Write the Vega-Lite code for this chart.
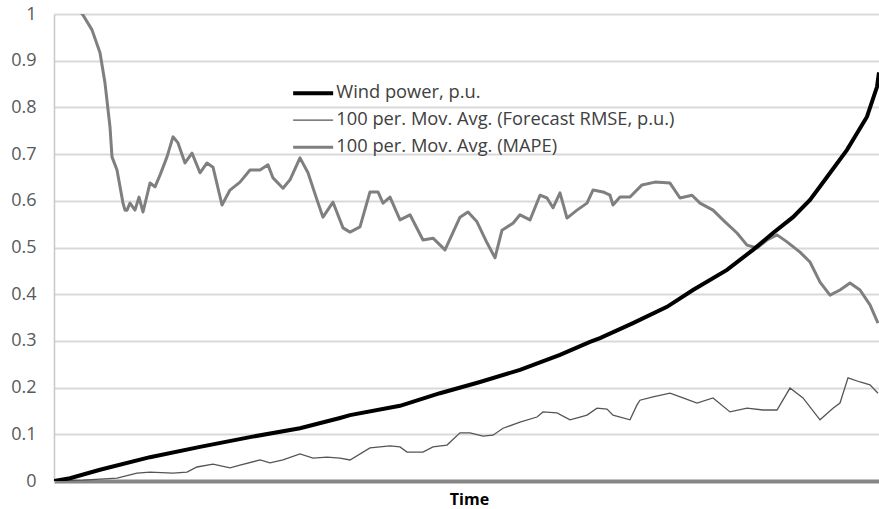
{
  "$schema": "https://vega.github.io/schema/vega-lite/v6.json",
  "width": 825,
  "height": 467,
  "autosize": "none",
  "padding": {"left": 54, "top": 14, "right": 0, "bottom": 28},
  "background": "white",
  "config": {"view": {"stroke": null}, "font": "Open Sans"},
  "datasets": {
    "wind": [
      {"t": 0, "v": 0}, {"t": 16, "v": 0.006}, {"t": 46, "v": 0.024}, {"t": 96, "v": 0.051},
      {"t": 146, "v": 0.073}, {"t": 196, "v": 0.094}, {"t": 246, "v": 0.113}, {"t": 286, "v": 0.135},
      {"t": 296, "v": 0.141}, {"t": 346, "v": 0.161}, {"t": 386, "v": 0.188}, {"t": 426, "v": 0.212},
      {"t": 466, "v": 0.238}, {"t": 506, "v": 0.27}, {"t": 536, "v": 0.298}, {"t": 546, "v": 0.306},
      {"t": 579, "v": 0.338}, {"t": 613, "v": 0.373}, {"t": 639, "v": 0.409}, {"t": 673, "v": 0.452},
      {"t": 699, "v": 0.495}, {"t": 719, "v": 0.531}, {"t": 739, "v": 0.565}, {"t": 756, "v": 0.602},
      {"t": 771, "v": 0.645}, {"t": 793, "v": 0.709}, {"t": 813, "v": 0.78}, {"t": 823, "v": 0.844},
      {"t": 825, "v": 0.875}
    ],
    "rmse": [
      {"t": 0, "v": 0}, {"t": 29, "v": 0.002}, {"t": 63, "v": 0.006}, {"t": 83, "v": 0.017},
      {"t": 96, "v": 0.019}, {"t": 119, "v": 0.017}, {"t": 133, "v": 0.019}, {"t": 143, "v": 0.03},
      {"t": 159, "v": 0.036}, {"t": 176, "v": 0.028}, {"t": 186, "v": 0.034}, {"t": 206, "v": 0.045},
      {"t": 216, "v": 0.039}, {"t": 229, "v": 0.045}, {"t": 246, "v": 0.058}, {"t": 259, "v": 0.049},
      {"t": 273, "v": 0.051}, {"t": 286, "v": 0.049}, {"t": 296, "v": 0.045}, {"t": 316, "v": 0.071},
      {"t": 336, "v": 0.075}, {"t": 346, "v": 0.073}, {"t": 353, "v": 0.062}, {"t": 369, "v": 0.062},
      {"t": 379, "v": 0.073}, {"t": 393, "v": 0.077}, {"t": 406, "v": 0.103}, {"t": 416, "v": 0.103},
      {"t": 429, "v": 0.096}, {"t": 439, "v": 0.098}, {"t": 449, "v": 0.113}, {"t": 466, "v": 0.126},
      {"t": 483, "v": 0.137}, {"t": 489, "v": 0.148}, {"t": 503, "v": 0.146}, {"t": 516, "v": 0.131},
      {"t": 526, "v": 0.137}, {"t": 533, "v": 0.141}, {"t": 543, "v": 0.156}, {"t": 553, "v": 0.154},
      {"t": 559, "v": 0.141}, {"t": 576, "v": 0.131}, {"t": 583, "v": 0.163}, {"t": 586, "v": 0.173},
      {"t": 599, "v": 0.18}, {"t": 616, "v": 0.188}, {"t": 629, "v": 0.178}, {"t": 643, "v": 0.167},
      {"t": 659, "v": 0.178}, {"t": 676, "v": 0.148}, {"t": 693, "v": 0.156}, {"t": 709, "v": 0.152},
      {"t": 723, "v": 0.152}, {"t": 736, "v": 0.199}, {"t": 749, "v": 0.178}, {"t": 766, "v": 0.131},
      {"t": 779, "v": 0.156}, {"t": 786, "v": 0.167}, {"t": 794, "v": 0.221}, {"t": 806, "v": 0.212},
      {"t": 816, "v": 0.206}, {"t": 824, "v": 0.188}
    ],
    "mape": [
      {"t": 26, "v": 1.005}, {"t": 29, "v": 0.998}, {"t": 38, "v": 0.966}, {"t": 46, "v": 0.917},
      {"t": 51, "v": 0.852}, {"t": 56, "v": 0.758}, {"t": 58, "v": 0.694}, {"t": 63, "v": 0.666},
      {"t": 69, "v": 0.595}, {"t": 71, "v": 0.58}, {"t": 73, "v": 0.58}, {"t": 76, "v": 0.595},
      {"t": 81, "v": 0.58}, {"t": 85, "v": 0.608}, {"t": 89, "v": 0.576}, {"t": 96, "v": 0.638},
      {"t": 101, "v": 0.63}, {"t": 106, "v": 0.655}, {"t": 113, "v": 0.694}, {"t": 119, "v": 0.737},
      {"t": 124, "v": 0.724}, {"t": 131, "v": 0.681}, {"t": 138, "v": 0.702}, {"t": 146, "v": 0.66},
      {"t": 153, "v": 0.681}, {"t": 159, "v": 0.672}, {"t": 168, "v": 0.591}, {"t": 176, "v": 0.623},
      {"t": 186, "v": 0.64}, {"t": 196, "v": 0.666}, {"t": 206, "v": 0.666}, {"t": 214, "v": 0.677},
      {"t": 219, "v": 0.649}, {"t": 229, "v": 0.627}, {"t": 236, "v": 0.645}, {"t": 246, "v": 0.692},
      {"t": 254, "v": 0.66}, {"t": 263, "v": 0.602}, {"t": 269, "v": 0.565}, {"t": 279, "v": 0.597},
      {"t": 289, "v": 0.542}, {"t": 296, "v": 0.533}, {"t": 306, "v": 0.544}, {"t": 316, "v": 0.619},
      {"t": 324, "v": 0.619}, {"t": 329, "v": 0.595}, {"t": 336, "v": 0.608}, {"t": 346, "v": 0.559},
      {"t": 356, "v": 0.57}, {"t": 369, "v": 0.516}, {"t": 379, "v": 0.52}, {"t": 391, "v": 0.495},
      {"t": 406, "v": 0.565}, {"t": 414, "v": 0.576}, {"t": 423, "v": 0.555}, {"t": 433, "v": 0.51},
      {"t": 441, "v": 0.478}, {"t": 448, "v": 0.537}, {"t": 459, "v": 0.552}, {"t": 466, "v": 0.57},
      {"t": 476, "v": 0.559}, {"t": 486, "v": 0.612}, {"t": 493, "v": 0.606}, {"t": 499, "v": 0.585},
      {"t": 506, "v": 0.617}, {"t": 513, "v": 0.563}, {"t": 523, "v": 0.58}, {"t": 533, "v": 0.595},
      {"t": 539, "v": 0.623}, {"t": 549, "v": 0.619}, {"t": 556, "v": 0.612}, {"t": 559, "v": 0.591},
      {"t": 566, "v": 0.608}, {"t": 576, "v": 0.608}, {"t": 588, "v": 0.634}, {"t": 601, "v": 0.64},
      {"t": 616, "v": 0.638}, {"t": 626, "v": 0.606}, {"t": 638, "v": 0.612}, {"t": 646, "v": 0.595},
      {"t": 659, "v": 0.58}, {"t": 671, "v": 0.555}, {"t": 683, "v": 0.531}, {"t": 693, "v": 0.505},
      {"t": 703, "v": 0.499}, {"t": 713, "v": 0.516}, {"t": 723, "v": 0.527}, {"t": 733, "v": 0.512},
      {"t": 746, "v": 0.49}, {"t": 756, "v": 0.469}, {"t": 766, "v": 0.426}, {"t": 776, "v": 0.398},
      {"t": 786, "v": 0.409}, {"t": 796, "v": 0.424}, {"t": 806, "v": 0.409}, {"t": 816, "v": 0.377},
      {"t": 824, "v": 0.338}
    ]
  },
  "layer": [
    {
      "data": {"name": "mape"},
      "transform": [{"calculate": "'100 per. Mov. Avg. (MAPE)'", "as": "series"}],
      "mark": {"type": "line", "clip": true, "strokeJoin": "round", "strokeWidth": 3},
      "encoding": {
        "x": {"field": "t", "type": "quantitative", "scale": {"domain": [0, 825], "nice": false, "zero": false},
          "axis": {"title": "Time", "titleFont": "Open Sans", "titleFontWeight": "bold", "titleFontSize": 16, "titleColor": "#000000", "titlePadding": 10, "titleX": 415,
            "labels": false, "ticks": false, "grid": false, "domain": true, "domainColor": "#868686", "domainWidth": 4}},
        "y": {"field": "v", "type": "quantitative", "scale": {"domain": [0, 1], "nice": false},
          "axis": {"title": null, "values": [0, 0.1, 0.2, 0.3, 0.4, 0.5, 0.6, 0.7, 0.8, 0.9, 1], "format": "~g",
            "labelFontSize": 18, "labelColor": "#595959", "labelFont": "Open Sans", "labelPadding": 18, "ticks": false,
            "grid": true, "gridColor": "#d9d9d9", "gridWidth": 2, "domain": true, "domainColor": "#c8c8c8", "domainWidth": 1.5}},
        "color": {"field": "series", "type": "nominal",
          "scale": {"domain": ["Wind power, p.u.", "100 per. Mov. Avg. (Forecast RMSE, p.u.)", "100 per. Mov. Avg. (MAPE)"], "range": ["#000000", "#555555", "#7f7f7f"]},
          "legend": {"orient": "none", "legendX": 250, "legendY": 70, "title": null, "symbolType": "stroke", "symbolSize": 1600,
            "labelFontSize": 18.3, "labelColor": "#404040", "labelFont": "Open Sans", "labelOffset": 14, "rowPadding": 8, "padding": 0, "labelLimit": 500,
            "encode": {"symbols": {"update": {"strokeWidth": {"signal": "datum.value === 'Wind power, p.u.' ? 4 : (datum.value === '100 per. Mov. Avg. (MAPE)' ? 3 : 1.3)"}}}}}}
      }
    },
    {
      "data": {"name": "rmse"},
      "transform": [{"calculate": "'100 per. Mov. Avg. (Forecast RMSE, p.u.)'", "as": "series"}],
      "mark": {"type": "line", "clip": true, "strokeWidth": 1.3},
      "encoding": {
        "x": {"field": "t", "type": "quantitative"},
        "y": {"field": "v", "type": "quantitative"},
        "color": {"field": "series", "type": "nominal"}
      }
    },
    {
      "data": {"name": "wind"},
      "transform": [{"calculate": "'Wind power, p.u.'", "as": "series"}],
      "mark": {"type": "line", "clip": true, "strokeWidth": 4},
      "encoding": {
        "x": {"field": "t", "type": "quantitative"},
        "y": {"field": "v", "type": "quantitative"},
        "color": {"field": "series", "type": "nominal"}
      }
    }
  ]
}
